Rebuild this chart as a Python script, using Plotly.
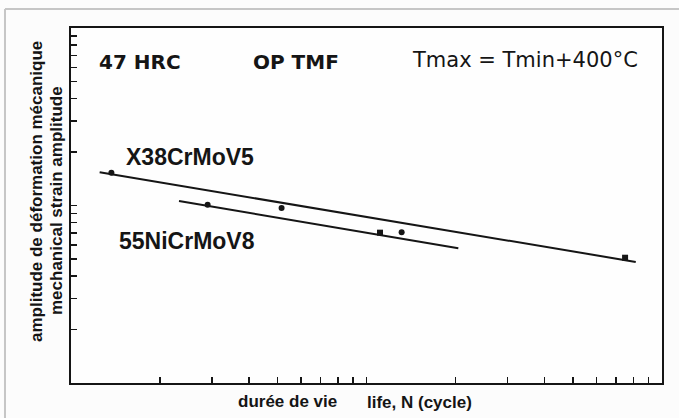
import plotly.graph_objects as go

# ---- data (log-log, no tick labels in original) ----
x38_N = [137, 516, 7500]
x38_eps = [1.53, 0.968, 0.508]
x38_fit_N = [125, 8150]
x38_fit_eps = [1.538, 0.481]

ni_N = [290, 1111, 1315]
ni_eps = [1.01, 0.703, 0.706]
ni_fit_N = [232, 2045]
ni_fit_eps = [1.06, 0.574]

x_ticks = [m * 10 ** k for k in (2, 3) for m in range(2, 11)]
y_ticks = [m * 10 ** k for k in (-1, 0) for m in range(2, 11)]

INK = "#151515"

fig = go.Figure()
fig.add_trace(go.Scatter(x=x38_fit_N, y=x38_fit_eps, mode="lines",
                         line=dict(color=INK, width=2), showlegend=False))
fig.add_trace(go.Scatter(x=ni_fit_N, y=ni_fit_eps, mode="lines",
                         line=dict(color=INK, width=2), showlegend=False))
fig.add_trace(go.Scatter(x=x38_N, y=x38_eps, mode="markers",
                         marker=dict(color=INK, size=6, symbol=["circle", "circle", "square"]),
                         showlegend=False))
fig.add_trace(go.Scatter(x=ni_N, y=ni_eps, mode="markers",
                         marker=dict(color=INK, size=6, symbol=["circle", "square", "circle"]),
                         showlegend=False))

axis_common = dict(type="log", showgrid=False, zeroline=False, showline=True,
                   linecolor=INK, linewidth=2, mirror=True, ticks="inside",
                   ticklen=6, tickwidth=1.5, tickcolor=INK, showticklabels=False,
                   tickmode="array")
fig.update_xaxes(range=[2, 4], tickvals=x_ticks, **axis_common)
fig.update_yaxes(range=[-1, 1], tickvals=y_ticks, **axis_common)

ann = []
comic = "DejaVu Sans"
ann.append(dict(text="<b>47 HRC</b>", x=0.044, y=0.904, xanchor="left", yanchor="middle",
                font=dict(family=comic, size=20, color=INK)))
ann.append(dict(text="<b>OP TMF</b>", x=0.3046, y=0.904, xanchor="left", yanchor="middle",
                font=dict(family=comic, size=20, color=INK)))
ann.append(dict(text="Tmax = Tmin+400°C", x=0.5736, y=0.91, xanchor="left", yanchor="middle",
                font=dict(family=comic, size=21, color=INK)))
lab = "Liberation Sans"
ann.append(dict(text="<b>X38CrMoV5</b>", x=0.0897, y=0.6366, xanchor="left", yanchor="middle",
                font=dict(family=lab, size=23, color=INK)))
ann.append(dict(text="<b>55NiCrMoV8</b>", x=0.0778, y=0.3986, xanchor="left", yanchor="middle",
                font=dict(family=lab, size=23, color=INK)))
ann.append(dict(text="<b>amplitude de déformation mécanique</b>", x=-0.0592, y=0.538,
                textangle=-90, xanchor="center", yanchor="middle",
                font=dict(family=lab, size=17, color=INK)))
ann.append(dict(text="<b>mechanical strain amplitude</b>", x=-0.0237, y=0.5155,
                textangle=-90, xanchor="center", yanchor="middle",
                font=dict(family=lab, size=17, color=INK)))
ann.append(dict(text="<b>durée de vie</b>", x=0.3655, y=-0.0535, xanchor="center", yanchor="middle",
                font=dict(family=lab, size=17, color=INK)))
ann.append(dict(text="<b>life, N (cycle)</b>", x=0.5897, y=-0.0563, xanchor="center", yanchor="middle",
                font=dict(family=lab, size=17, color=INK)))
for a in ann:
    a.update(xref="paper", yref="paper", showarrow=False)

shapes = [
    dict(type="line", xref="paper", yref="paper", x0=-0.1117, x1=1.04, y0=1.0535, y1=1.0535,
         line=dict(color="#c6c6c6", width=2)),
    dict(type="line", xref="paper", yref="paper", x0=-0.1117, x1=-0.1117, y0=1.0535, y1=-0.12,
         line=dict(color="#c6c6c6", width=2)),
]

fig.update_layout(width=679, height=418, margin=dict(l=71, r=17, t=28, b=35),
                  paper_bgcolor="#fcfcfc", plot_bgcolor="#fefefe",
                  annotations=ann, shapes=shapes, showlegend=False)

fig.write_html("out.html", config={"displayModeBar": False, "staticPlot": True},
               post_script="document.body.style.margin='0';")
